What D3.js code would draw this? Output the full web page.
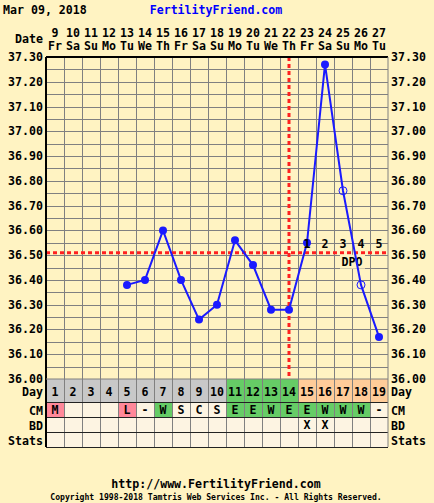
<!DOCTYPE html>
<html>
<head>
<meta charset="utf-8">
<script src="https://cdn.jsdelivr.net/npm/d3@7"></script>
<style>
body { margin:0; background:#fff3c2; }
svg { display:block; }
text { font-family:"DejaVu Sans Mono", monospace; font-weight:bold; }
</style>
</head>
<body>
<svg width="434" height="503"></svg>
<script>
// chart data
var dates = [9,10,11,12,13,14,15,16,17,18,19,20,21,22,23,24,25,26,27];
var weekdays = ["Fr","Sa","Su","Mo","Tu","We","Th","Fr","Sa","Su","Mo","Tu","We","Th","Fr","Sa","Su","Mo","Tu"];
var cycleDays = [1,2,3,4,5,6,7,8,9,10,11,12,13,14,15,16,17,18,19];
var temps = [null,null,null,null,36.38,36.40,36.60,36.40,36.24,36.30,36.56,36.46,36.28,36.28,36.55,37.27,36.76,36.38,36.17];
var openPoint = [0,0,0,0,0,0,0,0,0,0,0,0,0,0,0,0,1,1,0];
var dayPhase = ["g","g","g","g","g","g","g","g","g","g","f","f","f","f","p","p","p","p","p"];
var cm = ["M","","","","L","-","W","S","C","S","E","E","W","E","E","W","W","W","-"];
var bd = ["","","","","","","","","","","","","","","X","X","","",""];
var dpo = ["","","","","","","","","","","","","","","1","2","3","4","5"];
var tempTicks = [36.0,36.1,36.2,36.3,36.4,36.5,36.6,36.7,36.8,36.9,37.0,37.1,37.2,37.3];
var coverline = 36.51;
var ovDay = 14;

var svg = d3.select("svg");

var pLeft = 46, pRight = 388, pTop = 57, pBottom = 379;

var x = d3.scaleBand()
	.domain(cycleDays)
	.range([pLeft, pRight]);

var y = d3.scaleLinear()
	.domain([36.0, 37.3])
	.range([pBottom, pTop]);

var phaseColor = {g:"#c8c8c8", f:"#66cc66", p:"#ffcc99"};
function cmColor(c){
	switch(c){
		case "M":
		case "L":
			return "#ff8899";
		case "W":
		case "E":
			return "#66cc66";
	}
	return null;
}
function cx(d){ return x(d) + x.bandwidth()/2; }

// header
svg.append("text").attr("x",3).attr("y",14).attr("font-size","11.6px").text("Mar 09, 2018");
svg.append("text").attr("x",216).attr("y",14).attr("text-anchor","middle")
	.attr("font-size","11.6px").attr("fill","#0000ff").text("FertilityFriend.com");

// date rows
svg.append("text").attr("x",43).attr("y",43).attr("text-anchor","end").attr("font-size","11.6px").text("Date");
svg.selectAll(".dnum").data(cycleDays).enter().append("text")
	.attr("x", cx)
	.attr("y", 37).attr("text-anchor","middle").attr("font-size","11.6px")
	.text(function(d,i){ return dates[i]; });
svg.selectAll(".dwk").data(cycleDays).enter().append("text")
	.attr("x", cx)
	.attr("y", 50).attr("text-anchor","middle").attr("font-size","11.6px")
	.text(function(d,i){ return weekdays[i]; });

// grid
var grid = svg.append("g").attr("stroke","#808080").attr("stroke-width",1);
grid.selectAll("line.h").data(d3.range(0,27)).enter().append("line")
	.attr("x1",pLeft).attr("x2",pRight)
	.attr("y1", function(d){ return Math.round(y(36 + d*0.05))+0.5; })
	.attr("y2", function(d){ return Math.round(y(36 + d*0.05))+0.5; });
grid.selectAll("line.v").data(cycleDays.slice(1)).enter().append("line")
	.attr("x1", function(d){ return x(d)+0.5; }).attr("x2", function(d){ return x(d)+0.5; })
	.attr("y1",pTop).attr("y2",pBottom);

// axis labels
svg.selectAll(".yl").data(tempTicks).enter().append("text")
	.attr("x",43).attr("y", function(d){ return y(d)+4; })
	.attr("text-anchor","end").attr("font-size","11.6px")
	.text(function(d){ return d.toFixed(2); });
svg.selectAll(".yr").data(tempTicks).enter().append("text")
	.attr("x",391).attr("y", function(d){ return y(d)+4; })
	.attr("font-size","11.6px")
	.text(function(d){ return d.toFixed(2); });

// coverline and ovulation
svg.append("line").attr("x1",pLeft).attr("x2",pRight)
	.attr("y1",y(coverline)).attr("y2",y(coverline))
	.attr("stroke","#ff2020").attr("stroke-width",3).attr("stroke-dasharray","4,3");
svg.append("line")
	.attr("x1",cx(ovDay)).attr("x2",cx(ovDay))
	.attr("y1",pTop).attr("y2",pBottom)
	.attr("stroke","#ff2020").attr("stroke-width",3).attr("stroke-dasharray","4,3");

// DPO box
svg.append("rect").attr("x",cx(17)-3).attr("y",y(coverline)+2)
	.attr("width",25).attr("height",14).attr("fill","#fff3c2");
svg.append("text").attr("x",x(18)).attr("y",y(coverline)+13)
	.attr("text-anchor","middle").attr("font-size","11.6px").text("DPO");

// temperature line
var pts = cycleDays.map(function(d,i){ return {day:d, t:temps[i], open:openPoint[i]}; })
	.filter(function(p){ return p.t != null; });
var line = d3.line()
	.x(function(p){ return cx(p.day); })
	.y(function(p){ return y(p.t); });
svg.append("path").datum(pts).attr("d",line)
	.attr("fill","none").attr("stroke","#1a1aff").attr("stroke-width",2);
svg.selectAll(".pt").data(pts).enter().append("circle")
	.attr("cx", function(p){ return cx(p.day); })
	.attr("cy", function(p){ return y(p.t); })
	.attr("r", 4)
	.attr("fill", function(p){ return p.open ? "none" : "#1a1aff"; })
	.attr("stroke","#1a1aff").attr("stroke-width", function(p){ return p.open ? 1 : 0; });

// DPO numbers on top
svg.selectAll(".dpo").data(cycleDays).enter().append("text")
	.attr("x", cx)
	.attr("y", y(coverline)-5).attr("text-anchor","middle").attr("font-size","11.6px")
	.text(function(d,i){ return dpo[i]; });

// table
var rows = [
	{name:"Day", y0:379, h:23},
	{name:"CM", y0:402, h:15},
	{name:"BD", y0:417, h:15},
	{name:"Stats", y0:432, h:15}
];
var tbl = svg.append("g");
cycleDays.forEach(function(d,i){
	tbl.append("rect").attr("x",x(d)).attr("y",379).attr("width",x.bandwidth()).attr("height",23)
		.attr("fill",phaseColor[dayPhase[i]]);
	tbl.append("rect").attr("x",x(d)).attr("y",402).attr("width",x.bandwidth()).attr("height",15)
		.attr("fill",cmColor(cm[i]) || "#fdf4e2");
	tbl.append("rect").attr("x",x(d)).attr("y",417).attr("width",x.bandwidth()).attr("height",30)
		.attr("fill","#fdf4e2");
});
tbl.selectAll("line.tv").data(cycleDays.slice(1)).enter().append("line")
	.attr("x1", function(d){ return x(d)+0.5; }).attr("x2", function(d){ return x(d)+0.5; })
	.attr("y1",379).attr("y2",447).attr("stroke","#808080");
tbl.selectAll("line.th").data([402,417,432,447]).enter().append("line")
	.attr("x1",pLeft).attr("x2",pRight)
	.attr("y1", function(d){ return d+0.5; }).attr("y2", function(d){ return d+0.5; })
	.attr("stroke","#222");
rows.forEach(function(r){
	svg.append("text").attr("x",43).attr("y",r.y0+r.h/2+5).attr("text-anchor","end")
		.attr("font-size","11.6px").text(r.name);
	svg.append("text").attr("x",391).attr("y",r.y0+r.h/2+5)
		.attr("font-size","11.6px").text(r.name);
});
svg.selectAll(".cd").data(cycleDays).enter().append("text")
	.attr("x", cx)
	.attr("y", 396).attr("text-anchor","middle").attr("font-size","11.6px")
	.text(function(d){ return d; });
svg.selectAll(".cm").data(cycleDays).enter().append("text")
	.attr("x", cx)
	.attr("y", 414).attr("text-anchor","middle").attr("font-size","11.6px")
	.text(function(d,i){ return cm[i]; });
svg.selectAll(".bd").data(cycleDays).enter().append("text")
	.attr("x", cx)
	.attr("y", 429).attr("text-anchor","middle").attr("font-size","11.6px")
	.text(function(d,i){ return bd[i]; });

// frame
svg.append("line").attr("x1",pLeft).attr("x2",pRight).attr("y1",pTop).attr("y2",pTop).attr("stroke","#000").attr("stroke-width",2);
svg.append("line").attr("x1",pLeft).attr("x2",pLeft).attr("y1",pTop).attr("y2",447).attr("stroke","#000").attr("stroke-width",2);
svg.append("line").attr("x1",pRight).attr("x2",pRight).attr("y1",pTop).attr("y2",447).attr("stroke","#808080").attr("stroke-width",1);
svg.append("line").attr("x1",pLeft).attr("x2",pRight).attr("y1",379).attr("y2",379).attr("stroke","#808080").attr("stroke-width",1);

// footer
svg.append("text").attr("x",216).attr("y",488).attr("text-anchor","middle")
	.attr("font-size","11.6px").text("http://www.FertilityFriend.com");
svg.append("text").attr("x",216).attr("y",500).attr("text-anchor","middle")
	.attr("font-size","8.1px").attr("font-weight","normal")
	.text("Copyright 1998-2018 Tamtris Web Services Inc. - All Rights Reserved.");
</script>
</body>
</html>
